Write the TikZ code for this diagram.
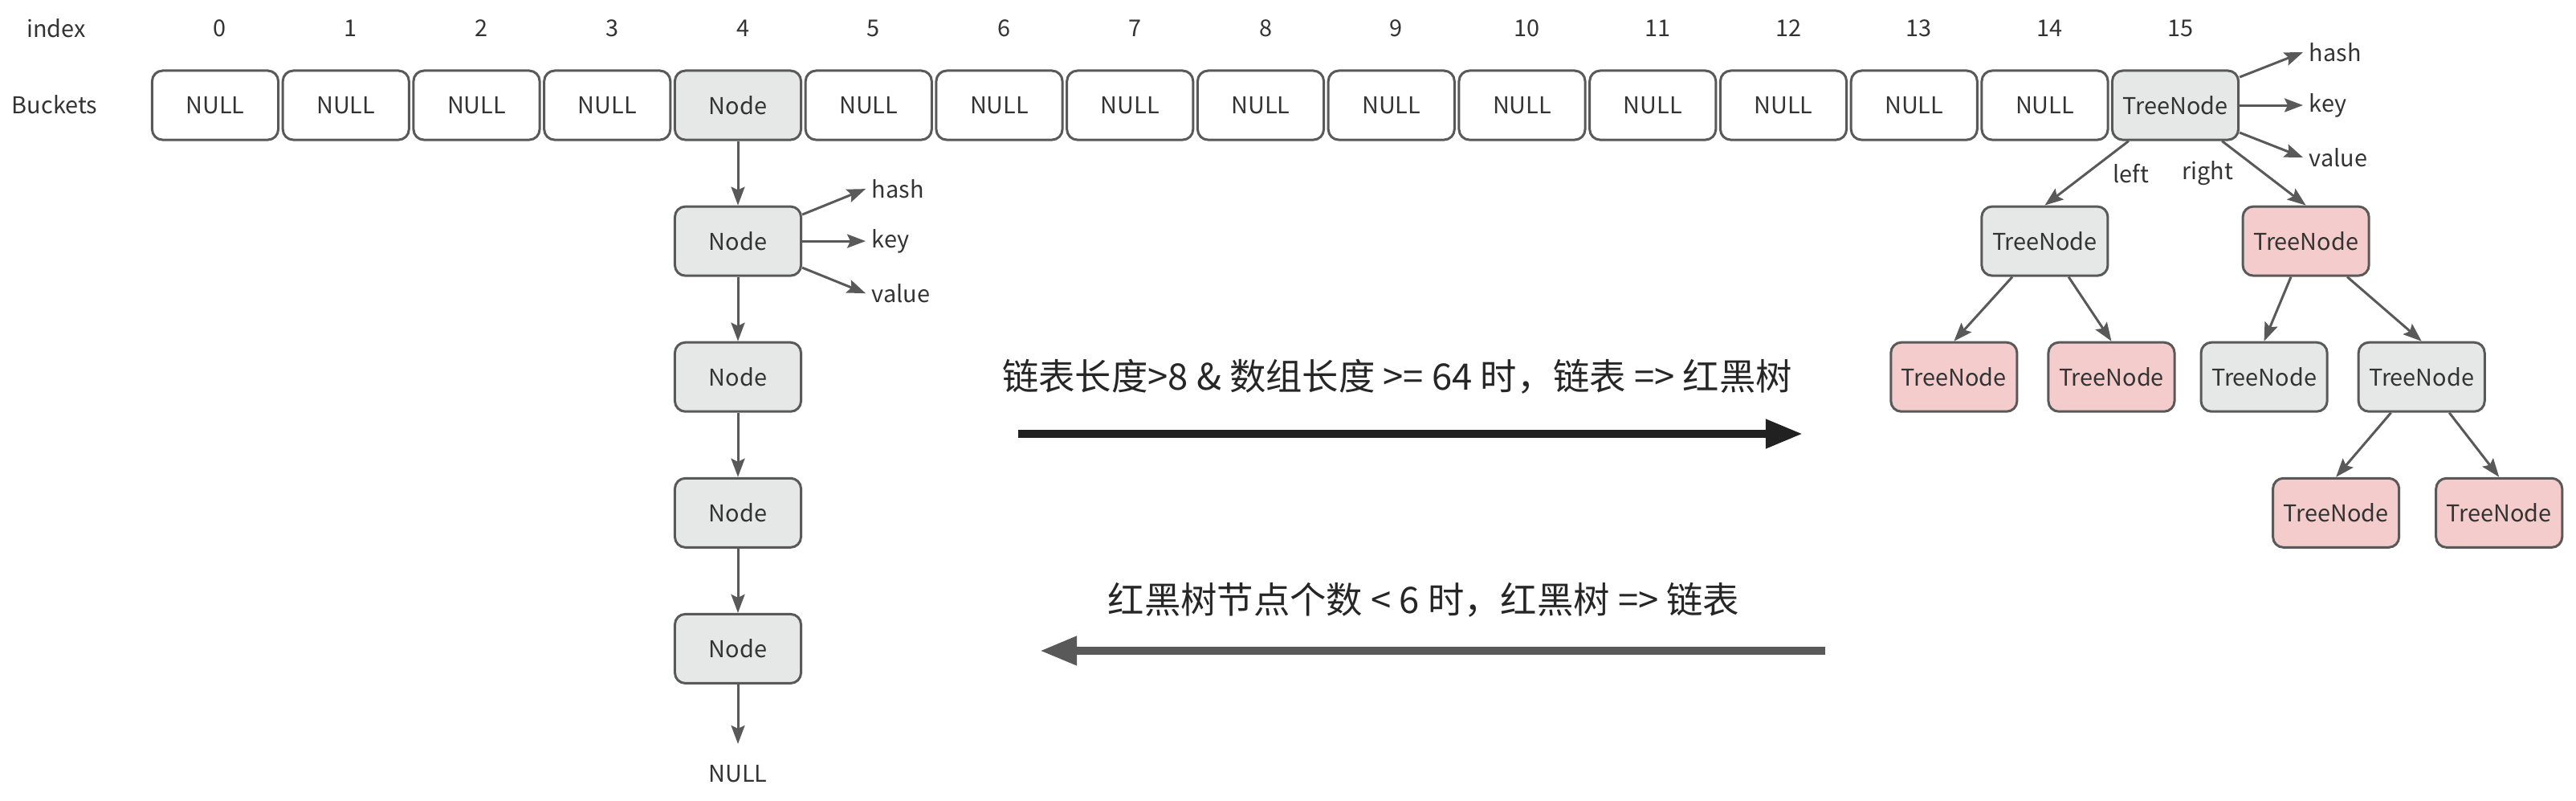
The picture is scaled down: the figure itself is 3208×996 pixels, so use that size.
\documentclass[tikz,border=0pt]{standalone}
\usepackage{fontspec}
\setmainfont{Noto Sans CJK SC}
\usetikzlibrary{arrows.meta, positioning, trees}

\definecolor{linegray}{HTML}{595959}
\definecolor{textgray}{HTML}{333333}
\definecolor{nodegray}{HTML}{E6E8E7}
\definecolor{nodered}{HTML}{F4CCCC}

\begin{document}
\begin{tikzpicture}[
        x=0.01cm, y=-0.01cm,
        font=\fontsize{8.2}{10}\selectfont,
        text=textgray,
        level distance=1.69cm,
        level 1/.style={sibling distance=3.25cm},
        level 2/.style={sibling distance=1.96cm},
        level 3/.style={sibling distance=2.03cm},
        edge from parent/.style={draw=linegray, line width=0.03cm, -{Stealth[length=0.23cm, width=0.17cm, inset=0.04cm]}},
        edge from parent path={(\tikzparentnode) -- (\tikzchildnode.north)},
        box/.style={draw=linegray, line width=0.03cm, rounded corners=0.13cm, minimum width=1.57cm, minimum height=0.86cm, inner sep=0pt},
        nullbox/.style={box, fill=white},
        graybox/.style={box, fill=nodegray},
        redbox/.style={box, fill=nodered},
        link/.style={draw=linegray, line width=0.03cm, -{Stealth[length=0.23cm, width=0.17cm, inset=0.04cm]}},
        field/.style={anchor=west, inner sep=0.07cm},
        bigarrow/.style={line width=0.1cm, -{Triangle[length=0.46cm, width=0.34cm]}},
        bigtext/.style={font=\fontsize{12.9}{15}\selectfont, text=black!85}
    ]
        \useasboundingbox (0,0) rectangle (3208,996);

        % index row and buckets
        \node (index) at (70,35) {index};
        \node (buckets) at (68,130) {Buckets};
        \foreach \i in {0,...,15}
            \node (i\i) at ({274+162.75*\i},35) {\i};
        \foreach \i in {0,1,2,3,5,6,...,14}
            \node[nullbox] (b\i) at ({268+162.75*\i},131) {NULL};
        \node[graybox] (b4) at (919,131) {Node};

        % linked list
        \node[graybox, below=0.80cm of b4] (c1) {Node};
        \foreach \i [count=\j from 1] in {2,3,4}
            \node[graybox, below=0.80cm of c\j] (c\i) {Node};
        \node[below=0.88cm of c4] (cnull) {NULL};
        \draw[link] (b4) -- (c1);
        \foreach \i [count=\j from 1] in {2,3,4}
            \draw[link] (c\j) -- (c\i);
        \draw[link, shorten >=0.14cm] (c4) -- (cnull);

        \node[field] (c1hash) at ([shift={(79,-65)}]c1.east) {hash};
        \node[field] (c1key) at ([shift={(79,0)}]c1.east) {key};
        \node[field] (c1value) at ([shift={(79,65)}]c1.east) {value};
        \draw[link] ([yshift=0.33cm]c1.east) -- (c1hash.west);
        \draw[link] (c1.east) -- (c1key.west);
        \draw[link] ([yshift=-0.33cm]c1.east) -- (c1value.west);

        % red-black tree
        \node[graybox] (b15) at (2709,131) {TreeNode}
            child {node[graybox] (t1) {TreeNode}
                child[xshift=-0.15cm] {node[redbox] (t11) {TreeNode}}
                child[xshift=-0.15cm] {node[redbox] (t12) {TreeNode}}
                edge from parent node[xshift=0.55cm] {left}}
            child {node[redbox] (t2) {TreeNode}
                child[xshift=0.46cm] {node[graybox] (t21) {TreeNode}}
                child[xshift=0.46cm] {node[graybox] (t22) {TreeNode}
                    child[xshift=-0.05cm] {node[redbox] (t221) {TreeNode}}
                    child[xshift=-0.05cm] {node[redbox] (t222) {TreeNode}}}
                edge from parent node[xshift=-0.70cm] {right}};

        \node[field] (b15hash) at ([shift={(79,-66)}]b15.east) {hash};
        \node[field] (b15key) at ([shift={(79,0)}]b15.east) {key};
        \node[field] (b15value) at ([shift={(79,65)}]b15.east) {value};
        \draw[link] ([yshift=0.35cm]b15.east) -- (b15hash.west);
        \draw[link] (b15.east) -- (b15key.west);
        \draw[link] ([yshift=-0.34cm]b15.east) -- (b15value.west);

        % conversions
        \node[bigtext] (totree) at (1740,469) {链表长度>8 \& 数组长度 >= 64 时，链表 => 红黑树};
        \coordinate (totree start) at (1268,540);
        \coordinate (totree end) at (2245,540);
        \draw[bigarrow, draw=black!87, fill=black!87] (totree start) -- (totree end);

        \node[bigtext] (tolist) at (1773,747) {红黑树节点个数 < 6 时，红黑树 => 链表};
        \coordinate (tolist start) at (2273,810);
        \coordinate (tolist end) at (1295,810);
        \draw[bigarrow, draw=linegray, fill=linegray] (tolist start) -- (tolist end);
    \end{tikzpicture}
\end{document}
